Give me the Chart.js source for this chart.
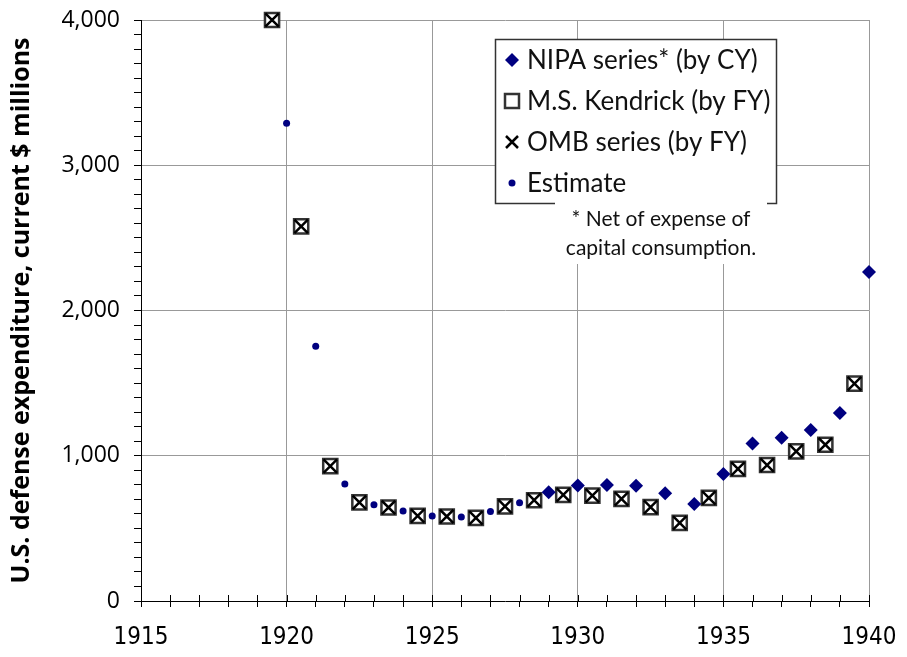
<!DOCTYPE html>
<html>
<head>
<meta charset="utf-8">
<script src="https://cdn.jsdelivr.net/npm/chart.js@4"></script>
<style>
  body { margin: 0; background: #fff; }
  canvas { display: block; }
</style>
</head>
<body>
<canvas id="chart" width="907" height="657"></canvas>
<script>
// NIPA series (calendar years)
const nipaYears = [1929, 1930, 1931, 1932, 1933, 1934, 1935, 1936, 1937, 1938, 1939, 1940];
const nipaValues = [748, 795, 798, 793, 741, 667, 874, 1085, 1124, 1177, 1294, 2265];

// Kendrick and OMB series (fiscal years, plotted mid-year)
const fyYears = [1919.5, 1920.5, 1921.5, 1922.5, 1923.5, 1924.5, 1925.5, 1926.5, 1927.5, 1928.5,
  1929.5, 1930.5, 1931.5, 1932.5, 1933.5, 1934.5, 1935.5, 1936.5, 1937.5, 1938.5, 1939.5];
const kendrickValues = [4000, 2579, 929, 679, 644, 586, 582, 572, 651, 694,
  731, 725, 703, 646, 538, 710, 910, 936, 1030, 1076, 1497];
const ombValues = [4000, 2579, 929, 679, 644, 586, 582, 572, 651, 694,
  731, 725, 703, 646, 538, 710, 910, 936, 1030, 1076, 1497];

// estimates
const estYears = [1920, 1921, 1922, 1923, 1924, 1925, 1926, 1927, 1928];
const estValues = [3290, 1754, 805, 662, 619, 586, 579, 616, 676];

const xTickLabels = [1915, 1920, 1925, 1930, 1935, 1940];
const yTickLabels = [0, 1000, 2000, 3000, 4000];

const legendItems = ['NIPA series* (by CY)', 'M.S. Kendrick (by FY)', 'OMB series (by FY)', 'Estimate'];
const footnote = ['* Net of expense of', 'capital consumption.'];

const NAVY = '#000080';

function pts(xs, ys) {
  return xs.map((x, i) => ({ x: x, y: ys[i] }));
}

// inner halves of x tick marks, legend box and footnote
const extras = {
  id: 'extras',
  afterDraw(chart) {
    const ctx = chart.ctx;
    const xs = chart.scales.x;
    const bottom = chart.chartArea.bottom;
    ctx.save();
    ctx.strokeStyle = '#000';
    ctx.lineWidth = 1;
    for (let v = 1916; v <= 1940; v++) {
      const px = Math.round(xs.getPixelForValue(v)) + 0.5;
      ctx.beginPath();
      ctx.moveTo(px, bottom);
      ctx.lineTo(px, bottom - 6);
      ctx.stroke();
    }

    // legend box
    ctx.fillStyle = '#fff';
    ctx.fillRect(495, 39, 281, 164);
    ctx.strokeStyle = '#333';
    ctx.lineWidth = 1.5;
    ctx.strokeRect(495.5, 39.5, 281, 164);

    // footnote background covers the legend border
    ctx.fillStyle = '#fff';
    ctx.fillRect(555, 200, 212, 64);

    const mx = 512;
    const rows = [60, 101, 142, 183];
    // diamond
    ctx.fillStyle = NAVY;
    ctx.beginPath();
    ctx.moveTo(mx, rows[0] - 7);
    ctx.lineTo(mx + 7, rows[0]);
    ctx.lineTo(mx, rows[0] + 7);
    ctx.lineTo(mx - 7, rows[0]);
    ctx.closePath();
    ctx.fill();
    // square
    ctx.strokeStyle = '#333';
    ctx.lineWidth = 2.5;
    ctx.strokeRect(mx - 7, rows[1] - 7, 14, 14);
    // cross
    ctx.strokeStyle = '#000';
    ctx.beginPath();
    ctx.moveTo(mx - 6, rows[2] - 6);
    ctx.lineTo(mx + 6, rows[2] + 6);
    ctx.moveTo(mx + 6, rows[2] - 6);
    ctx.lineTo(mx - 6, rows[2] + 6);
    ctx.stroke();
    // dot
    ctx.fillStyle = NAVY;
    ctx.beginPath();
    ctx.arc(mx, rows[3], 3.5, 0, Math.PI * 2);
    ctx.fill();

    ctx.fillStyle = '#111';
    ctx.font = '26px Lato';
    ctx.textBaseline = 'middle';
    ctx.textAlign = 'left';
    legendItems.forEach((t, i) => ctx.fillText(t, 527, rows[i] + 1));

    ctx.font = '21px Lato';
    ctx.textAlign = 'center';
    ctx.fillText(footnote[0], 661, 219);
    ctx.fillText(footnote[1], 661, 248);
    ctx.restore();
  }
};

new Chart(document.getElementById('chart'), {
  type: 'scatter',
  data: {
    datasets: [
      {
        label: legendItems[0],
        data: pts(nipaYears, nipaValues),
        pointStyle: 'rectRot',
        pointRadius: 7,
        pointBackgroundColor: NAVY,
        pointBorderWidth: 0,
        order: 1,
        clip: false
      },
      {
        label: legendItems[1],
        data: pts(fyYears, kendrickValues),
        pointStyle: 'rect',
        pointRadius: 10,
        pointBackgroundColor: '#fff',
        pointBorderColor: '#333',
        pointBorderWidth: 2.5,
        order: 3,
        clip: false
      },
      {
        label: legendItems[2],
        data: pts(fyYears, ombValues),
        pointStyle: 'crossRot',
        pointRadius: 9.5,
        pointBorderColor: '#000',
        pointBorderWidth: 2.5,
        order: 2,
        clip: false
      },
      {
        label: legendItems[3],
        data: pts(estYears, estValues),
        pointStyle: 'circle',
        pointRadius: 3.5,
        pointBackgroundColor: NAVY,
        pointBorderWidth: 0,
        order: 1,
        clip: false
      }
    ]
  },
  options: {
    responsive: false,
    animation: false,
    events: [],
    layout: { padding: { left: 0, right: 38, top: 20, bottom: 0 } },
    plugins: {
      legend: { display: false },
      tooltip: { enabled: false }
    },
    scales: {
      x: {
        type: 'linear',
        min: 1915,
        max: 1940,
        afterFit(scale) {
          scale.height = 56;
          scale.paddingLeft = 0;
          scale.paddingRight = 0;
        },
        border: { color: '#000', width: 1 },
        grid: {
          color: (c) => (c.tick && c.tick.value % 5 === 0 && c.tick.value > 1915) ? '#999' : 'rgba(0,0,0,0)',
          tickColor: '#000',
          tickLength: 6
        },
        ticks: {
          stepSize: 1,
          autoSkip: false,
          maxRotation: 0,
          padding: 16,
          color: '#000',
          font: { family: "'Liberation Sans Narrow', 'DejaVu Sans Condensed', sans-serif", size: 24 },
          callback: (v) => xTickLabels.includes(v) ? String(v) : ''
        }
      },
      y: {
        min: 0,
        max: 4000,
        afterFit(scale) {
          scale.width = 141;
          scale.paddingTop = 0;
          scale.paddingBottom = 0;
        },
        border: { color: '#000', width: 1 },
        grid: {
          color: (c) => (c.tick && c.tick.value % 1000 === 0 && c.tick.value > 0) ? '#999' : 'rgba(0,0,0,0)',
          tickColor: '#000',
          tickLength: 7
        },
        ticks: {
          stepSize: 100,
          autoSkip: false,
          padding: 14,
          color: '#000',
          font: { family: "'Open Sans', sans-serif", size: 23 },
          callback: (v) => yTickLabels.includes(v) ? v.toLocaleString('en-US') : ''
        },
        title: {
          display: true,
          text: 'U.S. defense expenditure, current $ millions',
          color: '#000',
          padding: { top: 7, bottom: 0 },
          font: { family: "'Open Sans', sans-serif", size: 25, weight: 'bold' }
        }
      }
    }
  },
  plugins: [extras]
});
</script>
</body>
</html>
